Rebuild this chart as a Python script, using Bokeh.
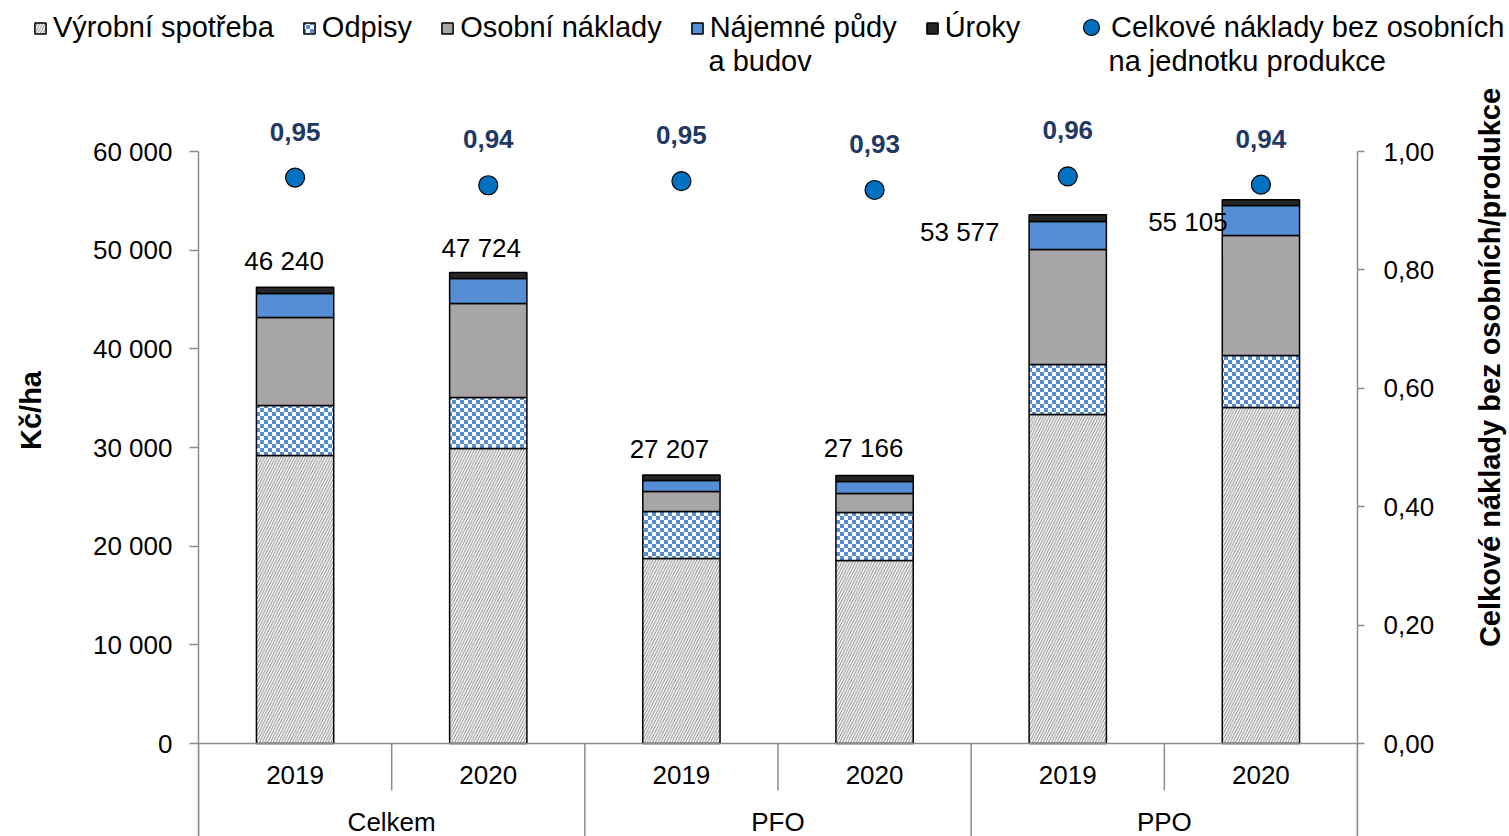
import base64
import numpy as np
from bokeh.plotting import figure
from bokeh.layouts import column, row
from bokeh.models import (Range1d, FactorRange, LinearAxis, CategoricalAxis, FixedTicker,
                          ColumnDataSource, Legend, LegendItem, Label, ImageURLTexture)
from bokeh.core.properties import value
from bokeh.embed import file_html
from bokeh.resources import INLINE

# ---------------- data ----------------
groups = ["Celkem", "PFO", "PPO"]
years = ["2019", "2020"]
vyrobni_spotreba = [29190, 29900, 18750, 18550, 33350, 34050]
odpisy = [5070, 5170, 4760, 4860, 5060, 5270]
osobni_naklady = [8920, 9530, 2030, 1930, 11660, 12170]
najemne = [2430, 2530, 1115, 1215, 2835, 3040]
uroky = [630, 594, 552, 611, 672, 575]
ratio = [0.956, 0.943, 0.950, 0.935, 0.958, 0.944]
ratio_labels = ["0,95", "0,94", "0,95", "0,93", "0,96", "0,94"]
series_names = ["Výrobní spotřeba", "Odpisy", "Osobní náklady", "Nájemné půdy", "Úroky"]
series_name_2nd_line = "a budov"
ratio_name = "Celkové náklady bez osobních"
ratio_name_2nd_line = "na jednotku produkce"
left_ticks = [0, 10000, 20000, 30000, 40000, 50000, 60000]
right_ticks = [0.0, 0.2, 0.4, 0.6, 0.8, 1.0]
left_title = "Kč/ha"
right_title = "Celkové náklady bez osobních/produkce"

# ---------------- geometry / style ----------------
FONT = "Liberation Sans"
LEG_H = 80
MAIN_H = 836 - LEG_H
LT_W, RT_W = 60, 40
MAIN_W = 1509 - LT_W - RT_W
PX_PER_UNIT = 592 / 60000.0          # left axis scale
Y_TOP = 60000 + (151 - LEG_H) / PX_PER_UNIT
Y_BOT = -(836 - 743) / PX_PER_UNIT
R_TOP = 1.0 + (151 - LEG_H) / 592.0
R_BOT = -(836 - 743) / 592.0
AX_COLOR = "#8c8c8c"
total_dx = [-11, -7, -12, -11, -108, -73]
total_dy = [-26, -25, -26, -27, 17, 22]

x = [(g, y) for g in groups for y in years]
stack_keys = ["s0", "s1", "s2", "s3", "s4"]
series = [vyrobni_spotreba, odpisy, osobni_naklady, najemne, uroky]
data = dict(x=x)
for k, s in zip(stack_keys, series):
    data[k] = s
totals = [sum(v) for v in zip(*series)]
data["total"] = totals
data["total_txt"] = [f"{t:,}".replace(",", " ") for t in totals]
data["ratio"] = ratio
data["ratio_txt"] = ratio_labels
data["dx"] = total_dx
data["dy"] = total_dy
src = ColumnDataSource(data)


def clean(fig):
    fig.outline_line_color = None
    fig.background_fill_color = "white"
    fig.border_fill_color = "white"
    fig.grid.grid_line_color = None


checker_svg = ('<svg xmlns="http://www.w3.org/2000/svg" width="8" height="8" '
               'shape-rendering="crispEdges">'
               '<rect width="8" height="8" fill="#ffffff"/>'
               '<rect x="0" y="0" width="4" height="4" fill="#558ed5"/>'
               '<rect x="4" y="4" width="4" height="4" fill="#558ed5"/></svg>')
checker = ImageURLTexture(url="data:image/svg+xml;base64," +
                          base64.b64encode(checker_svg.encode()).decode(),
                          repetition="repeat")

bar_style = dict(fill_color=["white", "white", "#a6a6a6", "#558ed5", "#262626"],
                 hatch_pattern=["/", value("checker"), " ", " ", " "],
                 hatch_color=["#8a8a8a", "#558ed5", "black", "black", "black"],
                 hatch_scale=[5.5, 8, 8, 8, 8],
                 hatch_weight=[1.0, 1, 1, 1, 1],
                 hatch_extra={"checker": checker},
                 line_color="black", line_width=1.5)
pt_style = dict(fill_color="#0070c0", line_color="black", line_width=1.2)

# ---------------- main chart ----------------
p = figure(width=MAIN_W, height=MAIN_H,
           x_range=FactorRange(*x, range_padding=0, group_padding=0, factor_padding=0),
           y_range=Range1d(Y_BOT, Y_TOP),
           output_backend="svg", toolbar_location=None,
           x_axis_location=None, y_axis_location=None,
           min_border_left=198 - LT_W, min_border_right=(1509 - RT_W) - 1357,
           min_border_top=0, min_border_bottom=0)
p.extra_y_ranges = {"r": Range1d(R_BOT, R_TOP)}
clean(p)

p.vbar_stack(stack_keys, x="x", width=0.4, source=src, **bar_style)

p.text(x="x", y="total", text="total_txt", source=src,
       x_offset="dx", y_offset="dy",
       text_align="center", text_baseline="middle",
       text_font=value(FONT), text_font_size="26px", text_color="black")

p.scatter(x="x", y="ratio", source=src, y_range_name="r", size=19, **pt_style)
p.text(x="x", y="ratio", text="ratio_txt", source=src, y_range_name="r", y_offset=-46,
       text_align="center", text_baseline="middle", text_font=value(FONT),
       text_font_size="26px", text_font_style="bold", text_color="#1f3864")

# separators below the x axis
bounds = list(range(len(x) + 1))
sep_bottom = [Y_BOT if i % 2 == 0 else -47 / PX_PER_UNIT for i in bounds]
p.segment(x0=bounds, y0=[0] * len(bounds), x1=bounds, y1=sep_bottom,
          line_color=AX_COLOR, line_width=1.5)

# group labels
p.text(x=groups, y=[-78 / PX_PER_UNIT] * len(groups), text=groups,
       text_align="center", text_baseline="middle", text_font=value(FONT),
       text_font_size="26px", text_color="black")

xa = CategoricalAxis(fixed_location=0)
xa.axis_line_color = AX_COLOR
xa.axis_line_width = 1.5
xa.major_tick_line_color = None
xa.major_tick_out = 0
xa.major_tick_in = 0
xa.major_label_standoff = 22
xa.major_label_text_font = FONT
xa.major_label_text_font_size = "26px"
xa.major_label_text_color = "black"
xa.group_text_color = None
xa.separator_line_color = None
p.add_layout(xa, "below")

la = LinearAxis(ticker=FixedTicker(ticks=left_ticks), bounds=(Y_BOT, 60000))
la.major_label_overrides = {t: f"{t:,}".replace(",", " ") for t in left_ticks}
p.add_layout(la, "left")

ra = LinearAxis(y_range_name="r", ticker=FixedTicker(ticks=right_ticks), bounds=(R_BOT, 1.0))
ra.major_label_overrides = {t: f"{t:.2f}".replace(".", ",") for t in right_ticks}
p.add_layout(ra, "right")

for ax, standoff, out in ((la, 17, 9), (ra, 19, 7)):
    ax.axis_line_color = AX_COLOR
    ax.axis_line_width = 1.5
    ax.major_tick_line_color = AX_COLOR
    ax.major_tick_line_width = 1.5
    ax.major_tick_in = 0
    ax.major_tick_out = out
    ax.minor_tick_line_color = None
    ax.major_label_standoff = standoff
    ax.major_label_text_font = FONT
    ax.major_label_text_font_size = "26px"
    ax.major_label_text_color = "black"

# ---------------- legend strip ----------------
# proxy renderers (same data and style, hidden; used only for legend glyphs)
lf = figure(width=1509, height=LEG_H, x_range=FactorRange(*x),
            y_range=Range1d(-200000, -100000),
            output_backend="svg", toolbar_location=None,
            x_axis_location=None, y_axis_location=None, min_border=0)
clean(lf)
proxy_bars = lf.vbar_stack(stack_keys, x="x", width=0.4, source=src, **bar_style)
proxy_pts = lf.scatter(x="x", y="ratio", source=src, size=19, **pt_style)
for r in proxy_bars + [proxy_pts]:
    r.visible = False

leg1 = Legend(items=[LegendItem(label=n, renderers=[r]) for n, r in zip(series_names, proxy_bars)],
              location=(33, 36), orientation="horizontal", click_policy="none")
leg2 = Legend(items=[LegendItem(label=ratio_name, renderers=[proxy_pts])],
              location=(1071, 33), orientation="horizontal", click_policy="none")
for lg, gw, so, sp in ((leg1, 14, 6, 28), (leg2, 40, -9, 0)):
    lg.border_line_color = None
    lg.background_fill_alpha = 0
    lg.padding = 0
    lg.margin = 0
    lg.spacing = sp
    lg.glyph_width = gw
    lg.glyph_height = gw
    lg.label_standoff = so
    lg.label_text_font = FONT
    lg.label_text_font_size = "29px"
    lg.label_text_color = "black"
    lf.add_layout(lg, "center")

for txt, xx in ((series_name_2nd_line, 708), (ratio_name_2nd_line, 1108)):
    lf.add_layout(Label(x=xx, y=LEG_H - 60, x_units="screen", y_units="screen", text=txt,
                        text_align="left", text_baseline="middle", text_font=FONT,
                        text_font_size="29px", text_color="black"))

# ---------------- axis title strips ----------------
def title_fig(w, text, cx, cy):
    f = figure(width=w, height=MAIN_H, x_range=Range1d(0, 1), y_range=Range1d(0, 1),
               output_backend="svg", toolbar_location=None,
               x_axis_location=None, y_axis_location=None, min_border=0)
    clean(f)
    f.add_layout(Label(x=cx, y=cy, x_units="screen", y_units="screen", text=text,
                       angle=np.pi / 2, text_align="center", text_baseline="middle",
                       text_font=FONT, text_font_size="29px", text_font_style="bold",
                       text_color="black"))
    return f


lt = title_fig(LT_W, left_title, 30, MAIN_H - (410 - LEG_H))
rt = title_fig(RT_W, right_title, 20, MAIN_H - (367 - LEG_H))

layout = column(lf, row(lt, p, rt, spacing=0), spacing=0)
open("out.html", "w").write(file_html(layout, INLINE))
